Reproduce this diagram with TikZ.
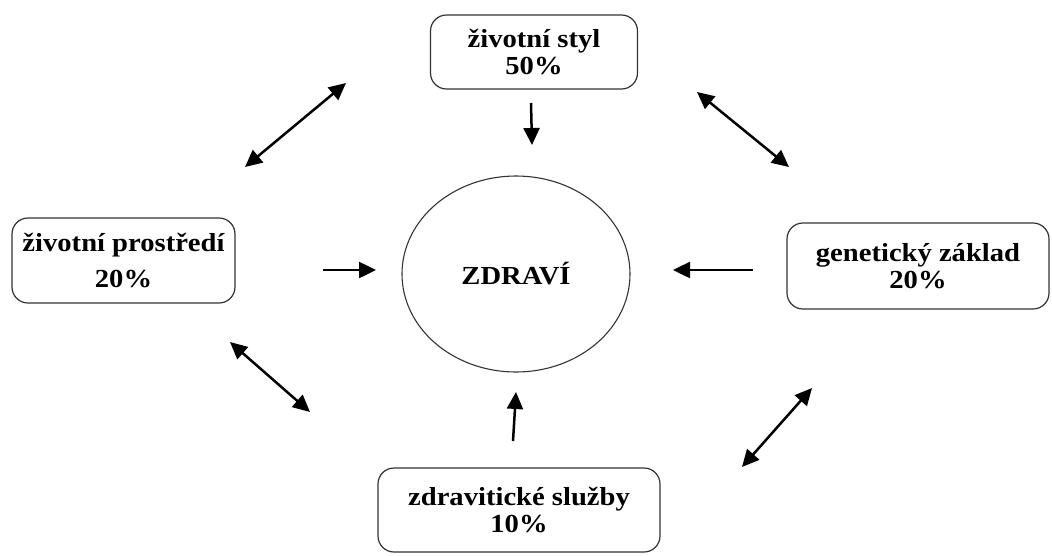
\documentclass[tikz,border=0pt]{standalone}
\usepackage{fontspec}
\setmainfont[FakeStretch=1.1]{Liberation Serif}
\usetikzlibrary{shapes.geometric,arrows.meta}
\tikzset{
  factor/.style={draw=black!80, line width=1.2pt, rounded corners=16pt, inner sep=0pt,
    align=center, font=\bfseries\fontsize{26}{27}\selectfont, text=black},
  health/.style={ellipse, draw=black!80, line width=1.1pt, inner sep=0pt,
    minimum width=228pt, minimum height=196pt, font=\bfseries\fontsize{26}{27}\selectfont},
  onearrow/.style={line width=2.5pt, -{Triangle[length=17pt,width=16pt]}},
  twoarrow/.style={line width=2.5pt, {Triangle[length=17pt,width=16pt]}-{Triangle[length=17pt,width=16pt]}}
}
\begin{document}
\begin{tikzpicture}[x=1pt,y=-1pt]
\useasboundingbox (0,0) rectangle (1052,555);
% nodes
\node[factor, minimum width=207pt, minimum height=74pt] (styl) at (534,52) {životní styl\\ 50\%};
\node[factor, minimum width=223pt, minimum height=85pt] (prostredi) at (123.5,260.5) {životní prostředí\\[9pt] 20\%};
\node[factor, minimum width=262pt, minimum height=86pt] (zaklad) at (918,266) {genetický základ\hspace{12pt}\\ 20\%};
\node[factor, minimum width=282pt, minimum height=84pt] (sluzby) at (519,510) {zdravitické služby\\ 10\%};
\node[health] (zdravi) at (516,274) {ZDRAVÍ};
% arrow end points
\coordinate (a1) at (531,103); \coordinate (b1) at (532,145);
\coordinate (a2) at (323,270); \coordinate (b2) at (376,270);
\coordinate (a3) at (753,270); \coordinate (b3) at (673,270);
\coordinate (a4) at (513,441); \coordinate (b4) at (516,392);
\coordinate (c1) at (245,167); \coordinate (d1) at (346,83);
\coordinate (c2) at (697,92);  \coordinate (d2) at (789,167);
\coordinate (c3) at (230,342); \coordinate (d3) at (310,412);
\coordinate (c4) at (812,388); \coordinate (d4) at (742,467);
% arrows toward health
\draw[onearrow] (a1) -- (b1);
\draw[onearrow] (a2) -- (b2);
\draw[onearrow] (a3) -- (b3);
\draw[onearrow] (a4) -- (b4);
% double arrows between factors
\draw[twoarrow] (c1) -- (d1);
\draw[twoarrow] (c2) -- (d2);
\draw[twoarrow] (c3) -- (d3);
\draw[twoarrow] (c4) -- (d4);
\end{tikzpicture}
\end{document}
